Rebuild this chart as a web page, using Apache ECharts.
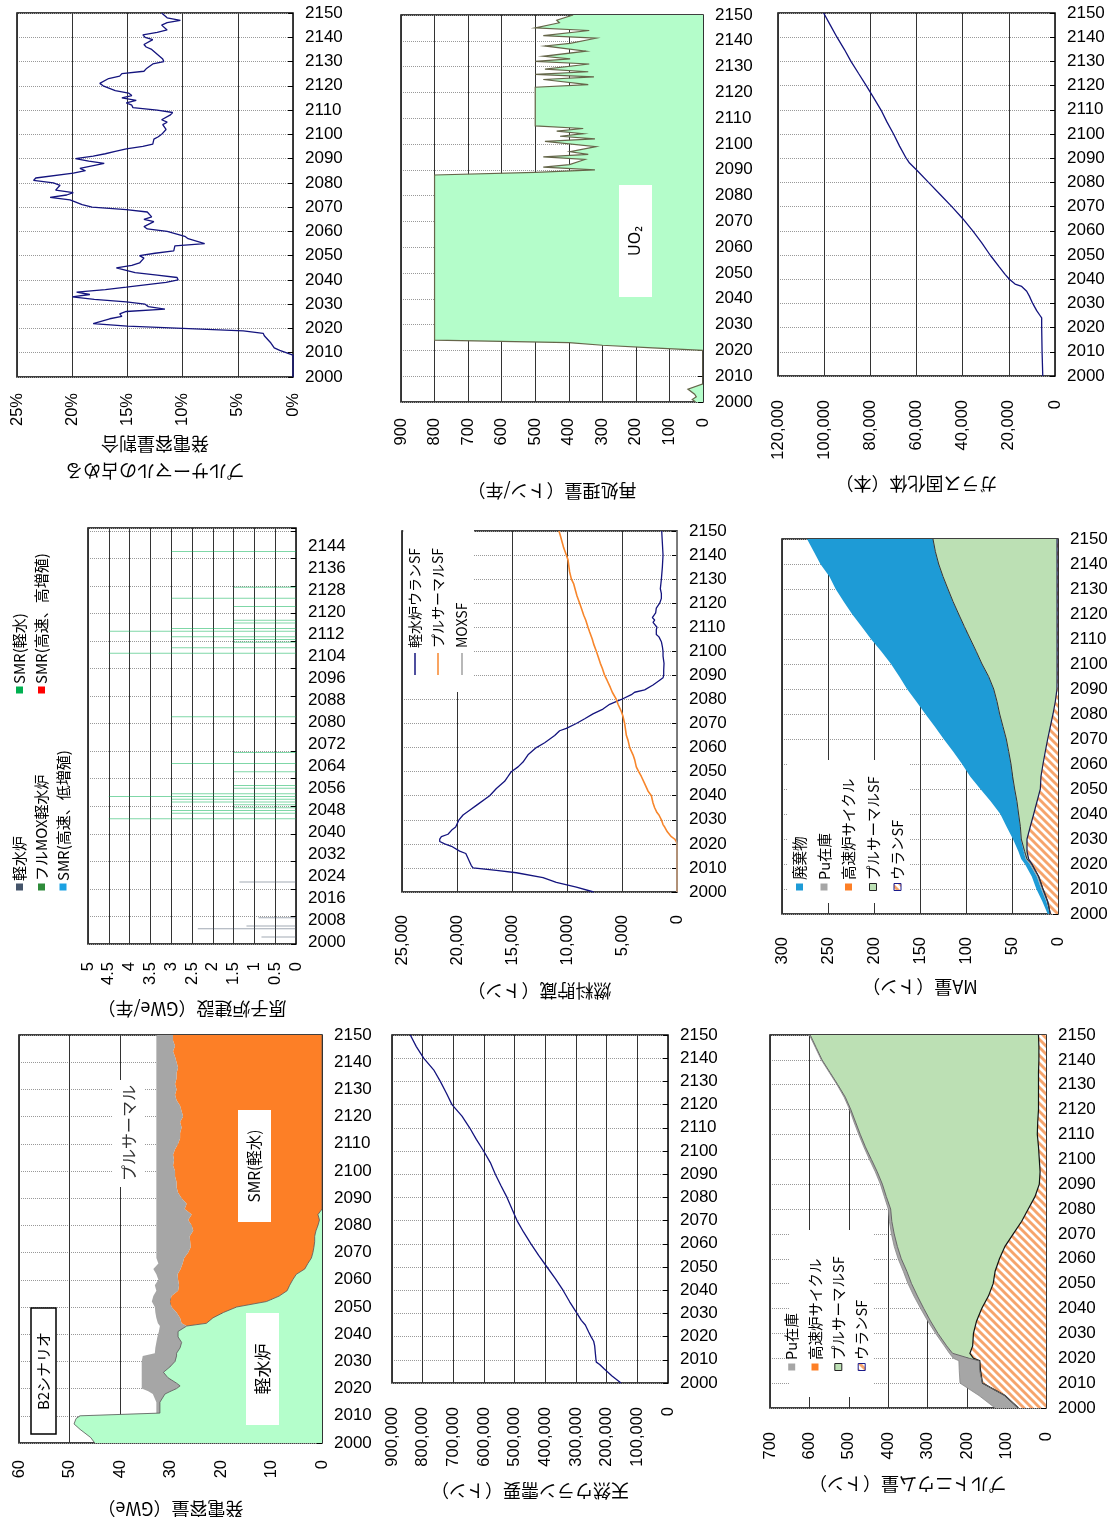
<!DOCTYPE html>
<html><head><meta charset="utf-8">
<script src="https://cdn.jsdelivr.net/npm/echarts@6/dist/echarts.min.js"></script>
<style>html,body{margin:0;padding:0;background:#fff}#c{width:1109px;height:1517px}</style>
</head><body><div id="c"></div>
<script>
// ===== DATA =====
// A: プルサーマルの占める発電容量割合 (%)
const shareYears  = [2000,2009,2011,2012,2014,2017,2018,2019,2020,2021,2022,2024,2025,2026,2027,2028,2029,2030,2031,2032,2033,2034,2035,2036,2037,2039,2040,2041,2042,2043,2045,2046,2047,2049,2050,2051,2052,2054,2055,2057,2058,2060,2061,2062,2064,2065,2066,2068,2069,2070,2071,2073,2074,2075,2076,2077,2079,2080,2081,2082,2084,2085,2086,2088,2089,2090,2091,2092,2093,2094,2095,2096,2098,2099,2100,2102,2104,2105,2106,2108,2109,2110,2111,2112,2113,2114,2115,2116,2117,2118,2120,2121,2123,2124,2125,2126,2127,2129,2130,2131,2133,2135,2136,2137,2139,2140,2141,2142,2143,2145,2146,2147,2148,2150];
const shareValues = [0,0,1.2,1.7,2.0,2.6,2.7,4.5,10,15,18.1,16.6,15.5,15.7,15.1,11.6,13.1,13.4,15.1,18,20,18.4,19.6,17,15.1,11.5,10.4,10.5,12.3,14.3,16,14.6,13.9,13.5,13.9,12.5,10.8,10.7,8.0,9.5,9.8,11.4,13.2,13.5,12.6,13.5,12.8,13.2,15.1,18.2,19.1,20.2,22.0,20.5,19.9,21.5,21.1,21.7,23.5,23.3,19.9,18.8,19.3,17.1,18.5,19.7,18.1,17.0,16.1,15.1,13.6,12.7,12.6,12.2,11.9,11.5,11.8,11.4,11.9,11.1,10.9,12.3,14.5,14.6,15.1,14.2,15.5,14.6,14.9,16.1,17.2,17.5,16.7,15.7,15.5,13.5,13.3,12.7,11.7,11.8,12.3,12.8,13.3,13.5,12.7,13.4,13.6,12.3,11.4,11.9,11.4,10.2,11.4,11.9];

// B: 原子炉建設 (GWe/年)
const buildCategories = Array.from({length: 151}, (_, i) => String(2000 + i));
const lwrBuildYears  = [2002, 2005, 2006, 2009, 2022];
const lwrBuildValues = [0.83, 2.36, 1.19, 0.9, 1.36];
const smrBuildYears  = [2045,2047,2048,2049,2050,2051,2052,2053,2054,2056,2057,2062,2065,2069,2082,2105,2107,2109,2110,2111,2113,2114,2116,2117,2122,2125,2129,2142];
const smrBuildValues = [4.5,3,3,1.5,1.5,3,3,4.5,3,1.5,1.5,1.5,3,1.5,3,4.5,3,1.5,1.5,3,4.5,3,1.5,1.5,1.5,3,1.5,3];

// C: 発電容量 (GWe)
const capYears = [2000,2002,2005,2007,2009,2010,2011,2015,2018,2019,2020,2021,2022,2024,2026,2028,2030,2032,2033,2035,2037,2039,2041,2043,2044,2046,2048,2050,2052,2054,2056,2058,2060,2062,2064,2066,2068,2070,2072,2074,2076,2078,2080,2082,2084,2086,2088,2090,2092,2094,2096,2098,2100,2102,2104,2106,2108,2110,2112,2114,2116,2118,2120,2122,2124,2126,2128,2130,2132,2134,2136,2138,2140,2142,2144,2146,2148,2150];
const capLwr = [45,45.8,47.9,49.1,48.7,47.9,32.1,32.1,31.1,30,28.8,28.1,28.8,30.5,31.4,30.1,29.1,28.8,28.8,28.1,27.8,28.5,28.5,26.8,22.9,21.6,19.5,16.9,11,8.5,6.9,6.4,5.8,5.1,3.4,2.8,2.1,1.8,1.6,1.45,1.45,1.2,0.8,0.5,0.8,0,0,0,0,0,0,0,0,0,0,0,0,0,0,0,0,0,0,0,0,0,0,0,0,0,0,0,0,0,0,0,0,0];
const capSmr = [0,0,0,0,0,0,0,0,0,0,0,0,0,0,0,0,0,0,0,0,0,0,0,0,4.9,6.5,9.3,12.9,19.1,21.3,21.6,21.9,22.7,23.5,24.6,24.8,25.2,24.7,24.4,24.65,24.75,24.3,25,26,25,27.2,26.8,27.8,28.5,28.8,28.8,29.1,29.1,29.5,29.3,29.5,29.1,28.5,28.1,28.1,27.8,28.1,27.5,27.8,28.1,28.8,29.1,28.8,29.1,28.8,28.8,28.5,28.8,29.1,29.5,29.1,29.5,29.5];
const capPluthermal = [0,0,0,0,0,0.2,0.7,0.7,2.4,4.4,6.9,7.6,6.9,5.2,4.3,5.6,6.6,6.7,4.3,4.9,5,4.1,3.8,5.3,4.7,4.7,4.2,3.3,3.6,3.6,4.3,4.8,3.9,4.2,5.4,4.8,5.5,6.3,6.8,6.7,6.6,7.3,7,6.3,7,5.6,6,5,4.3,4,4,3.7,3.7,3.3,3.5,3.3,3.7,4.3,4.7,4.7,5,4.7,5.3,5,4.7,4,3.7,4,3.7,4,4,4.3,4,3.7,3.3,3.7,3.3,3.3];

// D: 再処理量 (トン/年) UO2
const reproYears  = [2000,2001,2002,2003,2005,2007,2020,2021,2022,2023,2024,2088,2089,2090,2091,2092,2094,2095,2096,2097,2098,2099,2101,2102,2103,2104,2105,2106,2107,2122,2123,2125,2126,2127,2128,2129,2131,2132,2133,2134,2136,2138,2139,2141,2142,2144,2145,2147,2148,2150];
const reproValues = [22,32,20,25,45,0,0,150,300,400,800,800,500,322,476,398,352,476,342,396,357,319,471,322,426,357,436,357,500,500,342,476,325,500,342,471,339,500,396,476,349,471,396,319,476,339,500,428,436,387];

// E: 燃料貯蔵 (トン)
const lwrSfYears  = [2000,2002,2004,2006,2008,2009,2010,2011,2013,2014,2016,2017,2019,2020,2021,2022,2023,2024,2026,2027,2030,2032,2034,2036,2040,2043,2046,2048,2050,2052,2054,2057,2060,2062,2065,2067,2068,2070,2072,2074,2076,2078,2080,2082,2083,2084,2086,2088,2089,2090,2092,2095,2098,2100,2102,2104,2106,2107,2109,2110,2112,2113,2114,2116,2118,2120,2122,2124,2126,2130,2135,2140,2145,2150];
const lwrSfValues = [7575,9150,10970,12180,14600,16420,18540,18700,18900,19000,19200,19760,20500,21120,21570,21570,21420,20820,20420,20120,19820,19450,18850,18240,17030,16420,15670,15360,15060,14450,14000,13545,12790,12030,11120,10670,10060,9150,8390,7640,6730,6120,5060,4150,3850,2940,2180,1575,1270,1210,1210,1180,1270,1270,1330,1420,1640,1880,1880,1820,2180,2030,2240,1940,1880,1575,1420,1420,1515,1420,1330,1270,1330,1390];
const pmSfYears  = [2000,2020,2021,2022,2023,2025,2027,2028,2030,2032,2033,2035,2037,2040,2042,2045,2048,2050,2052,2055,2057,2060,2063,2065,2070,2073,2075,2078,2080,2083,2085,2088,2090,2093,2095,2098,2100,2103,2105,2108,2110,2113,2115,2118,2120,2123,2125,2128,2130,2133,2135,2138,2140,2143,2145,2148,2150];
const pmSfValues = [0,0,60,210,515,880,1120,1270,1420,1640,1820,2030,2180,2330,2640,2940,3240,3485,3700,3850,4000,4300,4450,4600,4760,4910,5060,5360,5515,5880,6060,6360,6575,6790,6970,7180,7330,7575,7700,7940,8090,8300,8480,8700,8850,9090,9210,9390,9600,9760,9820,9910,10060,10300,10420,10600,10730];
const moxSfYears  = [2000, 2150];
const moxSfValues = [0, 0];

// F: 天然ウラン需要 (トン)
const uraniumYears  = [2000,2003,2006,2008,2009,2010,2013,2016,2018,2020,2022,2025,2027,2030,2035,2040,2045,2050,2055,2060,2065,2070,2075,2080,2085,2090,2095,2100,2105,2110,2115,2120,2125,2130,2135,2140,2145,2150];
const uraniumValues = [153300,182600,207600,222800,233700,234800,237000,239100,242400,251100,258700,269600,282600,296700,320700,342400,367400,394600,421800,446800,470700,492400,508700,525000,544600,563100,579400,601100,625000,646800,671800,704400,722900,742400,764200,796800,820700,840300];

// G: ガラス固化体 (本)
const glassYears  = [2000,2010,2020,2024,2025,2027,2030,2033,2035,2037,2038,2040,2042,2045,2050,2055,2060,2065,2070,2075,2080,2085,2088,2090,2095,2100,2105,2110,2115,2120,2125,2130,2135,2140,2145,2150];
const glassValues = [5300,5600,5770,5770,6490,7930,9660,11100,12260,14420,17300,19760,21630,24080,28120,31720,35620,39940,44700,49750,54800,59840,63020,64460,67340,69940,72820,75420,78590,81760,85080,88390,91280,94450,97340,100220];

// H: MA量 (トン)
const maYears = [2000,2005,2010,2015,2020,2022,2025,2030,2035,2040,2045,2050,2055,2060,2065,2070,2075,2080,2085,2090,2095,2100,2105,2110,2115,2120,2125,2130,2135,2140,2145,2150];
const maUraniumSF  = [8.3,11.2,16.3,21,28.3,31.9,33.7,33.7,30.1,26.4,22.8,19.2,18.5,16.3,13.8,11.2,8.3,5.4,2.9,1.1,1,1,1,1,1,1,1,1,1,1,1,1];
const maPluthermSF = [0,0,0,0,0.5,1.8,2.5,6.2,10.8,16.4,21.8,27.9,30.8,34.8,39.8,45,51.5,58,63.4,68.8,74.4,81.6,87.8,94.3,100.8,107,113.1,118.6,124,128.7,132.3,134.9];
const maFastCycle  = [0,0,0,0,0,0,0,0,0,0,0,0,0,0,0,0,0,0,0,0,0,0,0,0,0,0,0,0,0,0,0,0];
const maPuStock    = [0.5,1.5,2,2,2,1.5,1,0.5,0.3,0.3,0.3,0.3,0.3,0.3,0.3,0.3,0.3,0.3,0.3,0.3,0.3,0.3,0.3,0.3,0.3,0.3,0.3,0.3,0.3,0.3,0.3,0.3];
const maWaste      = [2.4,4.3,5.2,5.5,5.2,4.8,5.8,8.6,14.8,19.6,28.1,37,45.9,52.9,60.1,67.8,73.9,80.5,87.4,93.9,96.8,98.6,102.9,107.7,111.4,115.6,118.6,121.8,123.2,128.3,131.9,136.6];

// I: プルトニウム量 (トン)
const puYears = [2000,2005,2010,2015,2019,2020,2022,2025,2030,2035,2040,2045,2050,2055,2060,2065,2070,2075,2080,2085,2090,2095,2100,2105,2110,2115,2120,2125,2130,2135,2140,2145,2150];
const puUraniumSF  = [70,104,161,166,168,184,193,186,184,176,163,146,134,129,118,104,83,62,45,28,17,15,17,19,22,21,19,19,19,19,18,18,19];
const puPluthermSF = [0,0,0,2,1,11,44,66,90,117,147,180,207,224,249,273,302,329,349,377,398,413,426,439,449,462,476,490,509,529,550,565,579];
const puFastCycle  = [0,0,0,0,0,0,0,0,0,0,0,0,0,0,0,0,0,0,0,0,0,0,0,0,0,0,0,0,0,0,0,0,0];
const puStock      = [59,66,57,52,52,40,8,6,6,7,8,9,9,9,8,8,7,6,6,5,5,5,5,4,4,4,3,3,2,2,2,2,2];

// ===== STYLE / LAYOUT =====
const LAT = "'Liberation Sans', Arial, 'Noto Sans CJK JP', sans-serif";
const JP  = "'Noto Sans CJK JP', 'Liberation Sans', sans-serif";
const NAVY = '#14147e';

function hatchPattern() {
  const s = 8, c = document.createElement('canvas');
  c.width = s; c.height = s;
  const g = c.getContext('2d');
  g.fillStyle = '#ffffff'; g.fillRect(0, 0, s, s);
  g.strokeStyle = '#F6A46C'; g.lineWidth = 2.9;
  for (let k = -s; k <= s; k += s) { g.beginPath(); g.moveTo(k - 2, -2); g.lineTo(k + s + 2, s + 2); g.stroke(); }
  return { image: c, repeat: 'repeat' };
}
const HATCH = hatchPattern();

const GRIDS = [
  {left: 17,  top: 13,   width: 276, height: 364},
  {left: 88,  top: 528,  width: 208, height: 416},
  {left: 19,  top: 1035, width: 303, height: 408},
  {left: 401, top: 15,   width: 302, height: 387},
  {left: 402, top: 531,  width: 275, height: 361},
  {left: 392, top: 1035, width: 276, height: 348},
  {left: 778, top: 13,   width: 277, height: 363},
  {left: 782, top: 539,  width: 276, height: 375},
  {left: 770, top: 1035, width: 276, height: 373}
];
const comma = v => Number(v).toLocaleString('en-US');
const XCFG = [
  {max: 25, interval: 5, fmt: v => v + '%', name: 'プルサーマルの占める\n発電容量割合', gap: 52, margin: 16},
  {max: 5, interval: 0.5, fmt: v => String(v), name: '原子炉建設（GWe/年）', gap: 51, margin: 18},
  {max: 60, interval: 10, fmt: v => String(v), name: '発電容量（GWe）', gap: 52, margin: 17},
  {max: 900, interval: 100, fmt: v => String(v), name: '再処理量（トン/年）', gap: 75, margin: 16},
  {max: 25000, interval: 5000, fmt: comma, name: '燃料貯蔵（トン）', gap: 85, margin: 23},
  {max: 900000, interval: 100000, fmt: comma, name: '天然ウラン需要（トン）', gap: 94, margin: 24},
  {max: 120000, interval: 20000, fmt: comma, name: 'ガラス固化体（本）', gap: 94, margin: 24},
  {max: 300, interval: 50, fmt: v => String(v), name: 'MA量（トン）', gap: 59, margin: 23},
  {max: 700, interval: 100, fmt: v => String(v), name: 'プルトニウム量（トン）', gap: 62, margin: 24}
];

const grids = GRIDS.map(g => Object.assign({show: true, borderColor: '#000', borderWidth: 1.5, backgroundColor: '#fff', containLabel: false, outerBoundsMode: 'none'}, g));
const xAxes = XCFG.map((a, i) => ({
  gridIndex: i, type: 'value', inverse: true, min: 0, max: a.max, interval: a.interval, position: 'bottom',
  name: a.name, nameLocation: 'middle', nameGap: a.gap, nameRotate: 180,
  nameTextStyle: {fontFamily: JP, fontSize: 18, color: '#000', lineHeight: 27},
  axisLine: {show: false}, axisTick: {show: false},
  axisLabel: {rotate: 90, margin: a.margin, fontSize: 16.5, color: '#000', fontFamily: LAT, formatter: a.fmt},
  splitLine: {show: true, lineStyle: {color: '#333', width: 1, type: 'solid'}}
}));
const yAxes = GRIDS.map((g, i) => {
  const common = {
    gridIndex: i, position: 'right', axisLine: {show: false},
    axisLabel: {margin: 12, fontSize: 17, color: '#000', fontFamily: LAT},
  };
  if (i === 1) {
    return Object.assign(common, {
      type: 'category', data: buildCategories, boundaryGap: true,
      axisTick: {show: true, inside: true, length: 5, interval: idx => idx % 10 === 0, lineStyle: {color: '#000'}},
      axisLabel: Object.assign({}, common.axisLabel, {interval: 7}),
      splitLine: {show: true, interval: idx => idx % 10 === 0, lineStyle: {color: '#999', type: 'dotted', width: 1}}
    });
  }
  return Object.assign(common, {
    type: 'value', min: 2000, max: 2150, interval: 10,
    axisTick: {show: true, inside: true, length: 5, lineStyle: {color: '#000'}},
    axisLabel: Object.assign({}, common.axisLabel, {formatter: v => String(v)}),
    splitLine: {show: true, lineStyle: {color: '#999', type: 'dotted', width: 1}}
  });
});

function lineSeries(gi, name, years, values, color, width) {
  return {type: 'line', name, xAxisIndex: gi, yAxisIndex: gi, showSymbol: false, animation: false, silent: true,
    lineStyle: {color, width: width || 1.3}, itemStyle: {color},
    data: years.map((y, i) => [values[i], y])};
}
function areaSeries(gi, name, years, lower, upper, fill, stroke, sw) {
  return {type: 'custom', name, xAxisIndex: gi, yAxisIndex: gi, coordinateSystem: 'cartesian2d',
    silent: true, animation: false, clip: true,
    data: years.map((y, i) => [upper[i], y]), encode: {x: 0, y: 1},
    renderItem: (params, api) => {
      if (params.dataIndex !== 0) return null;
      const top = years.map((y, i) => api.coord([upper[i], y]));
      const bot = years.map((y, i) => api.coord([lower[i], y])).reverse();
      const ch = [{type: 'polygon', z2: 0, shape: {points: top.concat(bot)}, style: {fill: fill, stroke: null}}];
      if (stroke) ch.push({type: 'polyline', z2: 10, shape: {points: top}, style: {fill: null, stroke: stroke, lineWidth: sw || 1}});
      return {type: 'group', children: ch};
    }};
}
function stackLayers(gi, years, layers) {
  let base = years.map(() => 0);
  const out = [];
  layers.forEach(L => {
    const top = base.map((b, i) => b + L.values[i]);
    out.push(areaSeries(gi, L.name, years, base, top, L.fill, L.stroke, L.sw));
    base = top;
  });
  return out;
}

const series = [];
// A
series.push(lineSeries(0, 'プルサーマル割合', shareYears, shareValues, NAVY, 1.3));
// B
series.push({type: 'bar', name: '軽水炉', xAxisIndex: 1, yAxisIndex: 1, barWidth: 1, barGap: '-100%', animation: false, silent: true,
  itemStyle: {color: 'rgba(68,84,106,0.5)'}, data: lwrBuildYears.map((y, i) => [lwrBuildValues[i], String(y)])});
series.push({type: 'bar', name: 'SMR(軽水)', xAxisIndex: 1, yAxisIndex: 1, barWidth: 1, barGap: '-100%', animation: false, silent: true,
  itemStyle: {color: 'rgba(0,176,80,0.5)'}, data: smrBuildYears.map((y, i) => [smrBuildValues[i], String(y)])});
// C
series.push(...stackLayers(2, capYears, [
  {name: '軽水炉', values: capLwr, fill: '#B4FECB', stroke: '#555', sw: 0.8},
  {name: 'SMR(軽水)', values: capSmr, fill: '#FD7F26'},
  {name: 'プルサーマル', values: capPluthermal, fill: '#A6A6A6'}
]));
// D
series.push(...stackLayers(3, reproYears, [
  {name: 'UO2', values: reproValues, fill: '#B4FDCA', stroke: '#66664a', sw: 1.2}
]));
// E
series.push(lineSeries(4, '軽水炉ウランSF', lwrSfYears, lwrSfValues, NAVY, 1.3));
series.push(lineSeries(4, 'プルサーマルSF', pmSfYears, pmSfValues, '#F7862C', 1.6));
series.push(lineSeries(4, 'MOXSF', moxSfYears, moxSfValues, '#A0A0A0', 1.3));
// F
series.push(lineSeries(5, '天然ウラン需要', uraniumYears, uraniumValues, NAVY, 1.3));
// G
series.push(lineSeries(6, 'ガラス固化体', glassYears, glassValues, NAVY, 1.3));
// H
series.push(...stackLayers(7, maYears, [
  {name: 'ウランSF', values: maUraniumSF, fill: HATCH, stroke: '#1a1a50', sw: 1.2},
  {name: 'プルサーマルSF', values: maPluthermSF, fill: '#BCE0B4', stroke: '#333', sw: 1},
  {name: '高速炉サイクル', values: maFastCycle, fill: '#FD7F26'},
  {name: 'Pu在庫', values: maPuStock, fill: '#A6A6A6'},
  {name: '廃棄物', values: maWaste, fill: '#1E9BD6'}
]));
// I
series.push(...stackLayers(8, puYears, [
  {name: 'ウランSF', values: puUraniumSF, fill: HATCH, stroke: '#111', sw: 1.2},
  {name: 'プルサーマルSF', values: puPluthermSF, fill: '#BCE0B4', stroke: '#666', sw: 1},
  {name: '高速炉サイクル', values: puFastCycle, fill: '#FD7F26'},
  {name: 'Pu在庫', values: puStock, fill: '#A6A6A6', stroke: '#888', sw: 0.8}
]));

// ===== Graphics: labels, boxes, legends =====
const graphics = [];
function vText(x, y, text, size, color, align) {
  return {type: 'text', x, y, rotation: Math.PI / 2, z: 101,
    style: {text, fill: color || '#000', font: size + 'px ' + JP, align: align || 'left', verticalAlign: 'middle'}};
}
function box(x, y, w, h, stroke) {
  return {type: 'rect', shape: {x, y, width: w, height: h}, z: 100,
    style: {fill: '#fff', stroke: stroke || null, lineWidth: stroke ? 1.5 : 0}};
}
function sq(cx, cy, size, fill, stroke) {
  return {type: 'rect', shape: {x: cx - size / 2, y: cy - size / 2, width: size, height: size}, z: 101,
    style: {fill, stroke: stroke || null, lineWidth: stroke ? 1 : 0}};
}
// C labels
graphics.push(box(31, 1308, 25, 126, '#000'), vText(43.5, 1371, 'B2シナリオ', 15, '#000', 'center'));
graphics.push(box(112, 1080, 33, 107), vText(128.5, 1133, 'プルサーマル', 16, '#333', 'center'));
graphics.push(box(238, 1110, 33, 112), vText(254.5, 1166, 'SMR(軽水)', 15.5, '#000', 'center'));
graphics.push(box(246, 1313, 33, 112), vText(262.5, 1369, '軽水炉', 17, '#000', 'center'));
// D label
graphics.push(box(619, 185, 33, 112), {type: 'text', x: 635.5, y: 241, rotation: Math.PI / 2, z: 101,
  style: {text: 'UO₂', fill: '#000', font: '16px ' + "'Noto Sans', 'Liberation Sans', sans-serif", align: 'center', verticalAlign: 'middle'}});
// B legend
const bLeg = [
  [19.5, 887, '軽水炉', '#44546A'], [41.5, 887, 'フルMOX軽水炉', '#2E8B3A'], [63, 887, 'SMR(高速、低増殖)', '#1BA1E2'],
  [19.5, 690, 'SMR(軽水)', '#00B050'], [41.5, 690, 'SMR(高速、高増殖)', '#FF0000']
];
bLeg.forEach(([x, y, t, c]) => { graphics.push(sq(x, y, 7, c), vText(x, y - 6, t, 15)); });
// E legend
graphics.push(box(403.2, 529, 70.8, 163));
const eLeg = [[415, '軽水炉ウランSF', NAVY], [438, 'プルサーマルSF', '#F7862C'], [462, 'MOXSF', '#A0A0A0']];
eLeg.forEach(([x, t, c]) => {
  graphics.push({type: 'line', shape: {x1: x, y1: 675, x2: x, y2: 653}, z: 101, style: {stroke: c, lineWidth: 1.5}});
  graphics.push(vText(x, 648, t, 14));
});
// H legend
graphics.push(box(787, 760, 123, 143));
const hLeg = [[799.5, '廃棄物', '#1E9BD6'], [824, 'Pu在庫', '#A6A6A6'], [848.5, '高速炉サイクル', '#FD7F26'],
  [873, 'プルサーマルSF', '#BCE0B4', '#222'], [897.5, 'ウランSF', HATCH, '#1a1a8a']];
hLeg.forEach(([x, t, c, s]) => { graphics.push(sq(x, 887, 7, c, s), vText(x, 880, t, 14.5)); });
// I legend
graphics.push(box(790, 1230, 83, 167));
const iLeg = [[791.7, 'Pu在庫', '#A6A6A6'], [815, '高速炉サイクル', '#FD7F26'],
  [838.3, 'プルサーマルSF', '#BCE0B4', '#222'], [861.7, 'ウランSF', HATCH, '#1a1a8a']];
iLeg.forEach(([x, t, c, s]) => { graphics.push(sq(x, 1367, 7, c, s), vText(x, 1360, t, 14.5)); });

const chart = echarts.init(document.getElementById('c'), null, {renderer: 'canvas'});
chart.setOption({
  animation: false,
  backgroundColor: '#fff',
  textStyle: {fontFamily: LAT},
  grid: grids,
  xAxis: xAxes,
  yAxis: yAxes,
  series: series,
  graphic: {elements: graphics}
});
</script></body></html>
